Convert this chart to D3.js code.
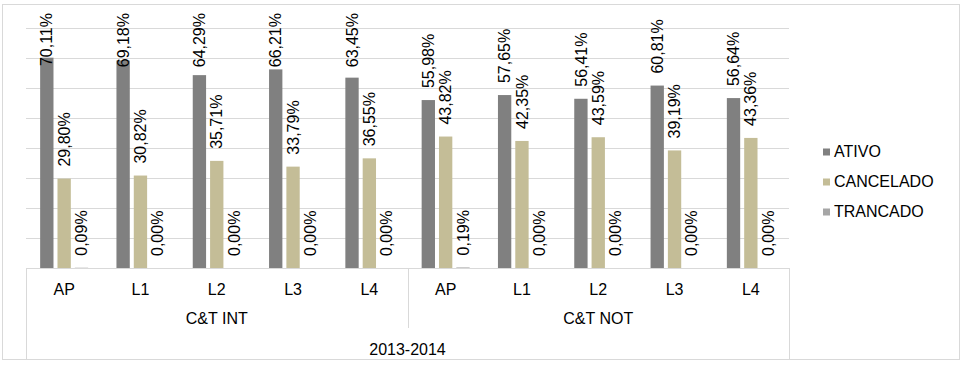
<!doctype html>
<html>
<head>
<meta charset="utf-8">
<script src="https://d3js.org/d3.v7.min.js"></script>
<style>
body {margin: 0; background: white;}
svg text {font-family: "Liberation Sans", Arial, sans-serif; fill: #000;}
</style>
</head>
<body>
<svg width="966" height="368" class="chart"></svg>
<script>
// categories (level 1), groups (level 2), period (level 3)
var categories = ["AP", "L1", "L2", "L3", "L4", "AP", "L1", "L2", "L3", "L4"];
var groups = ["C&T INT", "C&T NOT"];
var period = "2013-2014";
var seriesNames = ["ATIVO", "CANCELADO", "TRANCADO"];
var seriesColors = ["#808080", "#c4bd97", "#a6a6a6"];

var ativo     = [70.11, 69.18, 64.29, 66.21, 63.45, 55.98, 57.65, 56.41, 60.81, 56.64];
var cancelado = [29.80, 30.82, 35.71, 33.79, 36.55, 43.82, 42.35, 43.59, 39.19, 43.36];
var trancado  = [0.09, 0.00, 0.00, 0.00, 0.00, 0.19, 0.00, 0.00, 0.00, 0.00];
var seriesValues = [ativo, cancelado, trancado];

var svg = d3.select(".chart");

var plotLeft = 26, plotRight = 789, plotTop = 28, base = 268;

// outer border
svg.append("rect")
    .attr("x", 2.5).attr("y", 4.5)
    .attr("width", 957).attr("height", 355)
    .style("fill", "none")
    .style("stroke", "#d9d9d9");

var yScale = d3.scaleLinear().domain([0, 80]).range([base, plotTop]);
var xScale = d3.scaleBand().domain(d3.range(categories.length)).range([plotLeft, plotRight]);
var xInner = d3.scaleBand().domain(seriesNames).range([0, 48]).paddingInner(0.2308);
var clusterOff = (xScale.bandwidth() - 48) / 2;

// gridlines
svg.append("g").selectAll("line")
    .data(yScale.ticks(8).filter(function(t) { return t > 0; }))
    .enter().append("line")
    .attr("x1", plotLeft).attr("x2", plotRight)
    .attr("y1", function(d) { return Math.round(yScale(d)) + 0.5; })
    .attr("y2", function(d) { return Math.round(yScale(d)) + 0.5; })
    .style("stroke", "#d9d9d9");

// bars
seriesNames.forEach(function(name, si) {
    var g = svg.append("g");
    g.selectAll("rect")
        .data(seriesValues[si])
        .enter().append("rect")
        .attr("x", function(d, i) { return xScale(i) + clusterOff + xInner(name); })
        .attr("width", xInner.bandwidth())
        .attr("y", function(d) { return yScale(d); })
        .attr("height", function(d) { return base - yScale(d); })
        .style("fill", seriesColors[si]);
});

// category axis box
var axisG = svg.append("g").style("stroke", "#d9d9d9");
axisG.append("line").attr("x1", plotLeft).attr("x2", plotRight).attr("y1", base + 0.5).attr("y2", base + 0.5);
axisG.append("line").attr("x1", plotLeft + 0.5).attr("x2", plotLeft + 0.5).attr("y1", base).attr("y2", 359);
axisG.append("line").attr("x1", plotRight + 0.5).attr("x2", plotRight + 0.5).attr("y1", base).attr("y2", 359);
var midX = Math.round(xScale(5)) + 0.5;
axisG.append("line").attr("x1", midX).attr("x2", midX).attr("y1", base).attr("y2", 328);

// data labels (rotated, kept inside the plot top)
seriesNames.forEach(function(name, si) {
    svg.append("g").selectAll("text")
        .data(seriesValues[si])
        .enter().append("text")
        .attr("text-anchor", "start")
        .attr("dy", "0.35em")
        .style("font-size", "16px")
        .text(function(d) { return d.toFixed(2).replace(".", ",") + "%"; })
        .attr("transform", function(d, i) {
            var cx = xScale(i) + clusterOff + xInner(name) + xInner.bandwidth() / 2;
            var len = this.getComputedTextLength();
            var yb = Math.max(yScale(d) - 12, 13 + len);
            return "translate(" + cx + "," + yb + ")rotate(-90)";
        });
});

// level 1 labels
svg.append("g").selectAll("text")
    .data(categories)
    .enter().append("text")
    .attr("x", function(d, i) { return xScale(i) + xScale.bandwidth() / 2; })
    .attr("y", 295)
    .attr("text-anchor", "middle")
    .style("font-size", "16px")
    .text(function(d) { return d; });

// level 2 labels
svg.append("g").selectAll("text")
    .data(groups)
    .enter().append("text")
    .attr("x", function(d, i) { return (xScale(i * 5) + xScale(i * 5 + 4) + xScale.bandwidth()) / 2; })
    .attr("y", 324)
    .attr("text-anchor", "middle")
    .style("font-size", "16px")
    .text(function(d) { return d; });

// level 3 label
svg.append("text")
    .attr("x", (plotLeft + plotRight) / 2)
    .attr("y", 355)
    .attr("text-anchor", "middle")
    .style("font-size", "16px")
    .text(period);

// legend
var legend = svg.append("g").selectAll("g")
    .data(seriesNames)
    .enter().append("g")
    .attr("transform", function(d, i) { return "translate(823," + (148.5 + i * 30) + ")"; });
legend.append("rect")
    .attr("width", 7).attr("height", 7)
    .style("fill", function(d, i) { return seriesColors[i]; });
legend.append("text")
    .attr("x", 11).attr("y", 8.5)
    .style("font-size", "16px")
    .text(function(d) { return d; });
</script>
</body>
</html>
